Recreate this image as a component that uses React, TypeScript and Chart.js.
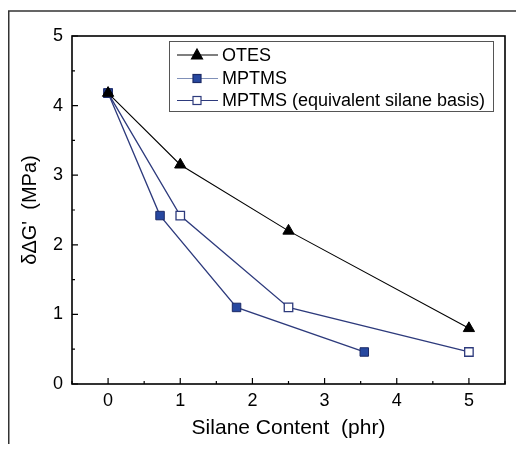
import React, { useEffect, useRef } from "react";
import { Chart, registerables } from "chart.js";

Chart.register(...registerables);

const otesX = [0, 1, 2.5, 5];
const otesY = [4.18, 3.15, 2.2, 0.8];
const mptmsX = [0, 0.72, 1.78, 3.55];
const mptmsY = [4.18, 2.42, 1.1, 0.46];
const equivX = [0, 1, 2.5, 5];
const equivY = [4.18, 2.42, 1.1, 0.46];
const seriesLabels = ["OTES", "MPTMS", "MPTMS (equivalent silane basis)"];
const xTitle = "Silane Content  (phr)";
const yTitle = "\u03b4\u0394G'  (MPa)";

const FONT = "'Liberation Sans', Arial, Helvetica, sans-serif";

const toPts = (xs: number[], ys: number[]) => xs.map((x, i) => ({ x, y: ys[i] }));

const framePlugin = {
  id: "frameTicks",
  beforeDatasetsDraw(chart: any) {
    const { ctx, chartArea: a, scales } = chart;
    ctx.save();
    // outer frame (top and left)
    ctx.strokeStyle = "#333";
    ctx.lineWidth = 1.5;
    ctx.beginPath();
    ctx.moveTo(0.75, chart.height);
    ctx.lineTo(0.75, 3);
    ctx.lineTo(chart.width, 3);
    ctx.stroke();
    // plot frame
    ctx.strokeStyle = "#000";
    ctx.lineWidth = 1.6;
    ctx.strokeRect(a.left, a.top, a.right - a.left, a.bottom - a.top);
    // inward ticks
    ctx.lineWidth = 1.2;
    ctx.beginPath();
    scales.x.ticks.forEach((t: any) => {
      const px = scales.x.getPixelForValue(t.value);
      const len = Number.isInteger(Math.round(t.value * 1000) / 1000) ? 6 : 3;
      ctx.moveTo(px, a.bottom);
      ctx.lineTo(px, a.bottom - len);
    });
    scales.y.ticks.forEach((t: any) => {
      const py = scales.y.getPixelForValue(t.value);
      const len = Number.isInteger(Math.round(t.value * 1000) / 1000) ? 6 : 3;
      ctx.moveTo(a.left, py);
      ctx.lineTo(a.left + len, py);
    });
    ctx.stroke();
    ctx.restore();
  },
  afterDraw(chart: any) {
    const { ctx } = chart;
    const bx = 161, by = 33, bw = 324, bh = 70;
    ctx.save();
    ctx.fillStyle = "#fff";
    ctx.fillRect(bx, by, bw, bh);
    ctx.strokeStyle = "#555";
    ctx.lineWidth = 1;
    ctx.strokeRect(bx + 0.5, by + 0.5, bw, bh);
    const rows = [47, 70.5, 92.5];
    chart.data.datasets.forEach((ds: any, i: number) => {
      const y = rows[i];
      ctx.strokeStyle = i === 1 ? "#8090b8" : ds.borderColor;
      ctx.lineWidth = 1.2;
      ctx.beginPath();
      ctx.moveTo(169, y);
      ctx.lineTo(210, y);
      ctx.stroke();
      ctx.fillStyle = ds.pointBackgroundColor;
      ctx.strokeStyle = ds.pointBorderColor;
      ctx.lineWidth = 1.2;
      if (ds.pointStyle === "triangle") {
        ctx.beginPath();
        ctx.moveTo(189, y - 6);
        ctx.lineTo(194.5, y + 4);
        ctx.lineTo(183.5, y + 4);
        ctx.closePath();
        ctx.fill();
        ctx.stroke();
      } else {
        ctx.fillStyle = "#fff";
        ctx.fillRect(185, y - 4, 8, 8);
        ctx.fillStyle = ds.pointBackgroundColor;
        ctx.fillRect(185, y - 4, 8, 8);
        ctx.strokeRect(185, y - 4, 8, 8);
      }
      ctx.fillStyle = "#000";
      ctx.font = `18px ${FONT}`;
      ctx.textBaseline = "middle";
      ctx.textAlign = "left";
      ctx.fillText(ds.label, 214, y + 1);
    });
    ctx.restore();
  },
};

export default function App() {
  const ref = useRef<HTMLCanvasElement | null>(null);
  useEffect(() => {
    if (!ref.current) return;
    const chart = new Chart(ref.current, {
      type: "scatter",
      data: {
        datasets: [
          {
            label: seriesLabels[0],
            data: toPts(otesX, otesY),
            showLine: true,
            borderColor: "#000",
            borderWidth: 1.1,
            pointStyle: "triangle",
            pointRadius: 6.5,
            pointBackgroundColor: "#000",
            pointBorderColor: "#000",
            pointBorderWidth: 1,
          },
          {
            label: seriesLabels[1],
            data: toPts(mptmsX, mptmsY),
            showLine: true,
            borderColor: "#2d3a7c",
            borderWidth: 1.3,
            pointStyle: "rect",
            pointRadius: 6,
            pointBackgroundColor: "#2748a0",
            pointBorderColor: "#1c2a66",
            pointBorderWidth: 1,
          },
          {
            label: seriesLabels[2],
            data: toPts(equivX, equivY),
            showLine: true,
            borderColor: "#2d3a7c",
            borderWidth: 1.3,
            pointStyle: "rect",
            pointRadius: 6,
            pointBackgroundColor: "#fff",
            pointBorderColor: "#2d3a7c",
            pointBorderWidth: 1.3,
          },
        ],
      },
      options: {
        animation: false,
        responsive: false,
        layout: { padding: { top: 28, right: 19, left: 0, bottom: 0 } },
        plugins: { legend: { display: false }, tooltip: { enabled: false } },
        scales: {
          x: {
            type: "linear",
            min: -0.5,
            max: 5.5,
            grid: { display: false, drawTicks: false },
            border: { display: false },
            ticks: {
              stepSize: 0.5,
              autoSkip: false,
              maxRotation: 0,
              padding: 6,
              color: "#000",
              font: { family: FONT, size: 18 },
              callback: (v: any) => (Number.isInteger(v) ? String(v) : ""),
            },
            title: {
              display: true,
              text: xTitle,
              color: "#000",
              font: { family: FONT, size: 21 },
              padding: { top: 0, bottom: 3 },
            },
            afterFit: (s: any) => {
              s.height = 60;
            },
          },
          y: {
            type: "linear",
            min: 0,
            max: 5,
            grid: { display: false, drawTicks: false },
            border: { display: false },
            ticks: {
              stepSize: 0.5,
              autoSkip: false,
              padding: 9,
              color: "#000",
              font: { family: FONT, size: 18 },
              callback: (v: any) => (Number.isInteger(v) ? String(v) : ""),
            },
            title: {
              display: true,
              text: yTitle,
              color: "#000",
              font: { family: FONT, size: 20 },
              padding: { top: 10, bottom: 0 },
            },
            afterFit: (s: any) => {
              s.width = 64;
            },
          },
        },
      },
      plugins: [framePlugin],
    });
    return () => chart.destroy();
  }, []);
  return (
    <div style={{ width: 516, height: 436 }}>
      <canvas ref={ref} width={516} height={436} style={{ display: "block" }} />
    </div>
  );
}
